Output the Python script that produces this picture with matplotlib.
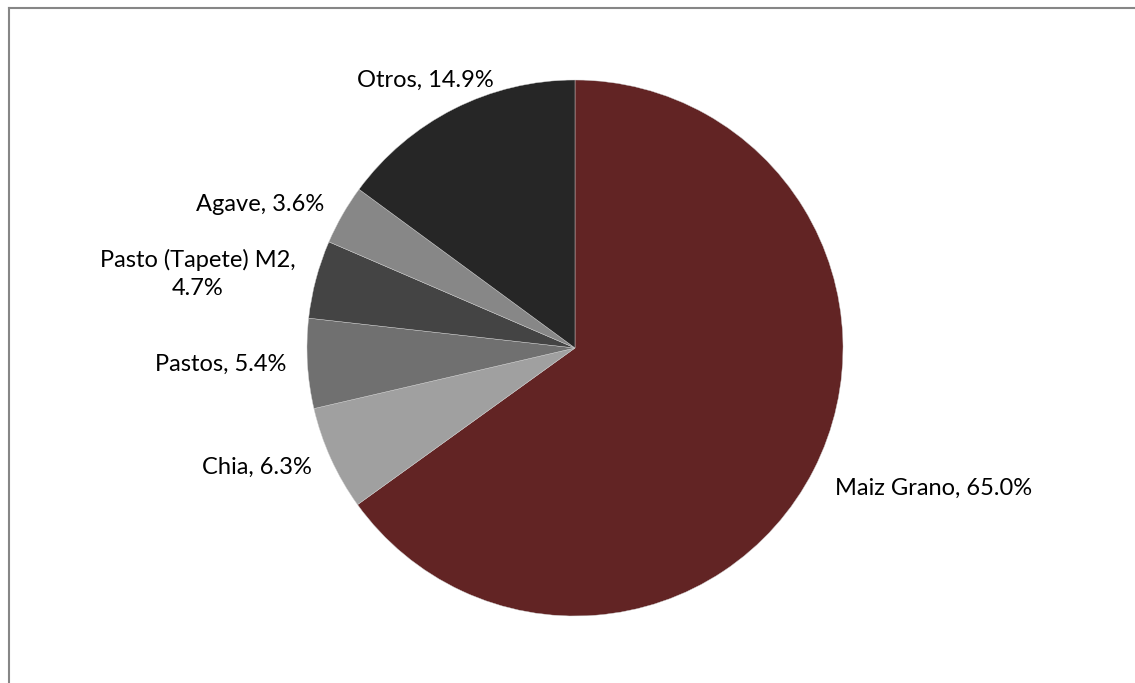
import numpy as np
import matplotlib.pyplot as plt
from matplotlib.lines import Line2D

plt.rcParams['font.family'] = ['Lato', 'DejaVu Sans']

cultivos = ['Maiz Grano', 'Chia', 'Pastos', 'Pasto (Tapete) M2', 'Agave', 'Otros']
porcentajes = [65.0, 6.3, 5.4, 4.7, 3.6, 14.9]
colores = ['#622424', '#a0a0a0', '#707070', '#444444', '#878787', '#262626']

W, H = 1135, 683
fig = plt.figure(figsize=(W / 100, H / 100), dpi=100)

# pie centre (575, 348) px, radius 268 px
cx, cy, r = 575, 348, 268
ax = fig.add_axes([(cx - r) / W, (H - cy - r) / H, 2 * r / W, 2 * r / H])

etiquetas = []
for c, p in zip(cultivos, porcentajes):
    if c == 'Pasto (Tapete) M2':
        etiquetas.append(f'{c},\n{p:.1f}%')
    else:
        etiquetas.append(f'{c}, {p:.1f}%')

wedges, texts = ax.pie(porcentajes, labels=etiquetas, colors=colores,
                       startangle=90, counterclock=False, radius=1,
                       labeldistance=1.08,
                       wedgeprops=dict(edgecolor='#d0d0d0', linewidth=0.3),
                       textprops=dict(fontsize=17, color='black'))
for t in texts:
    t.set_multialignment('center')
    t.set_linespacing(1.4)

# small nudges like Excel's outside-end placement
x, y = texts[0].get_position()
texts[0].set_position((x + 0.01, y - 0.03))
texts[5].set_ha('center')
texts[5].set_position((-0.56, 1.0))

ax.set_xlim(-1, 1)
ax.set_ylim(-1, 1)
ax.set_aspect('equal')
ax.axis('off')

# chart frame, cropped on the right and bottom
fig.add_artist(Line2D([8.5 / W, 8.5 / W], [0, 1 - 7.5 / H], transform=fig.transFigure,
                      color='#868686', lw=1.5))
fig.add_artist(Line2D([8.5 / W, 1], [1 - 7.5 / H, 1 - 7.5 / H], transform=fig.transFigure,
                      color='#868686', lw=1.5))

fig.savefig('out.png', dpi=100)
